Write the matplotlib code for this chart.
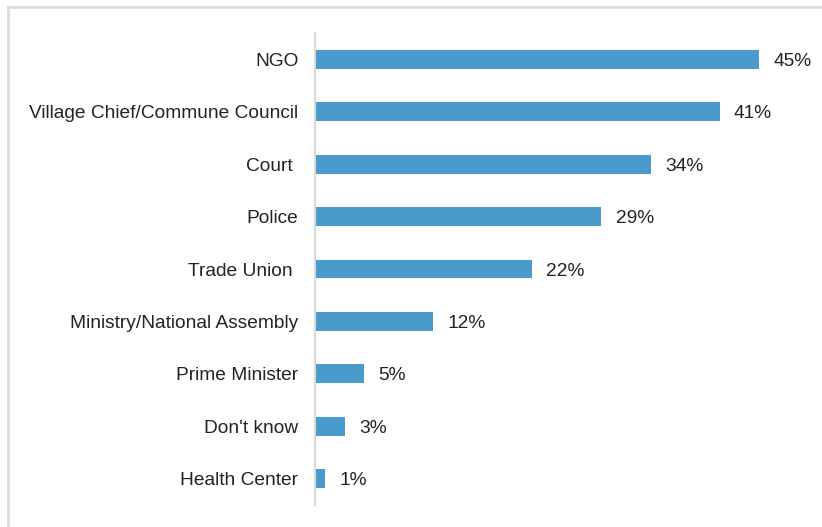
import matplotlib.pyplot as plt
from matplotlib.lines import Line2D

categories = ["NGO", "Village Chief/Commune Council", "Court ", "Police",
              "Trade Union ", "Ministry/National Assembly", "Prime Minister",
              "Don't know", "Health Center"]
values = [45, 41, 34, 29, 22, 12, 5, 3, 1]

plt.rcParams['font.family'] = ['Liberation Sans', 'DejaVu Sans']

fig = plt.figure(figsize=(8.22, 5.27), dpi=100)
ax = fig.add_axes([0.3832, 0.0417, 0.6004, 0.8957])

ypos = list(range(len(categories)))
ax.barh(ypos, values, height=0.36, color='#4a9bcb')
for y, v in zip(ypos, values):
    ax.text(v + 1.45, y, f"{v}%", va='center_baseline', ha='left', fontsize=13.8, color='#222222')

ax.set_yticks(ypos)
ax.set_yticklabels(categories, fontsize=13.8, color='#222222', va='center_baseline')
ax.set_ylim(len(categories) - 0.5, -0.5)
ax.set_xlim(0, 50)
ax.set_xticks([])
ax.tick_params(axis='y', length=0, pad=12)
for s in ['top', 'right', 'bottom']:
    ax.spines[s].set_visible(False)
ax.spines['left'].set_color('#d9d9d9')
ax.spines['left'].set_linewidth(1.5)

# outer frame (partly cut off in the original)
fig.add_artist(Line2D([8 / 822, 1], [1 - 7 / 527, 1 - 7 / 527], color='#dddddd', lw=2,
                      transform=fig.transFigure))
fig.add_artist(Line2D([8 / 822, 8 / 822], [0, 1 - 7 / 527], color='#dddddd', lw=2,
                      transform=fig.transFigure))

plt.savefig("out.png")
